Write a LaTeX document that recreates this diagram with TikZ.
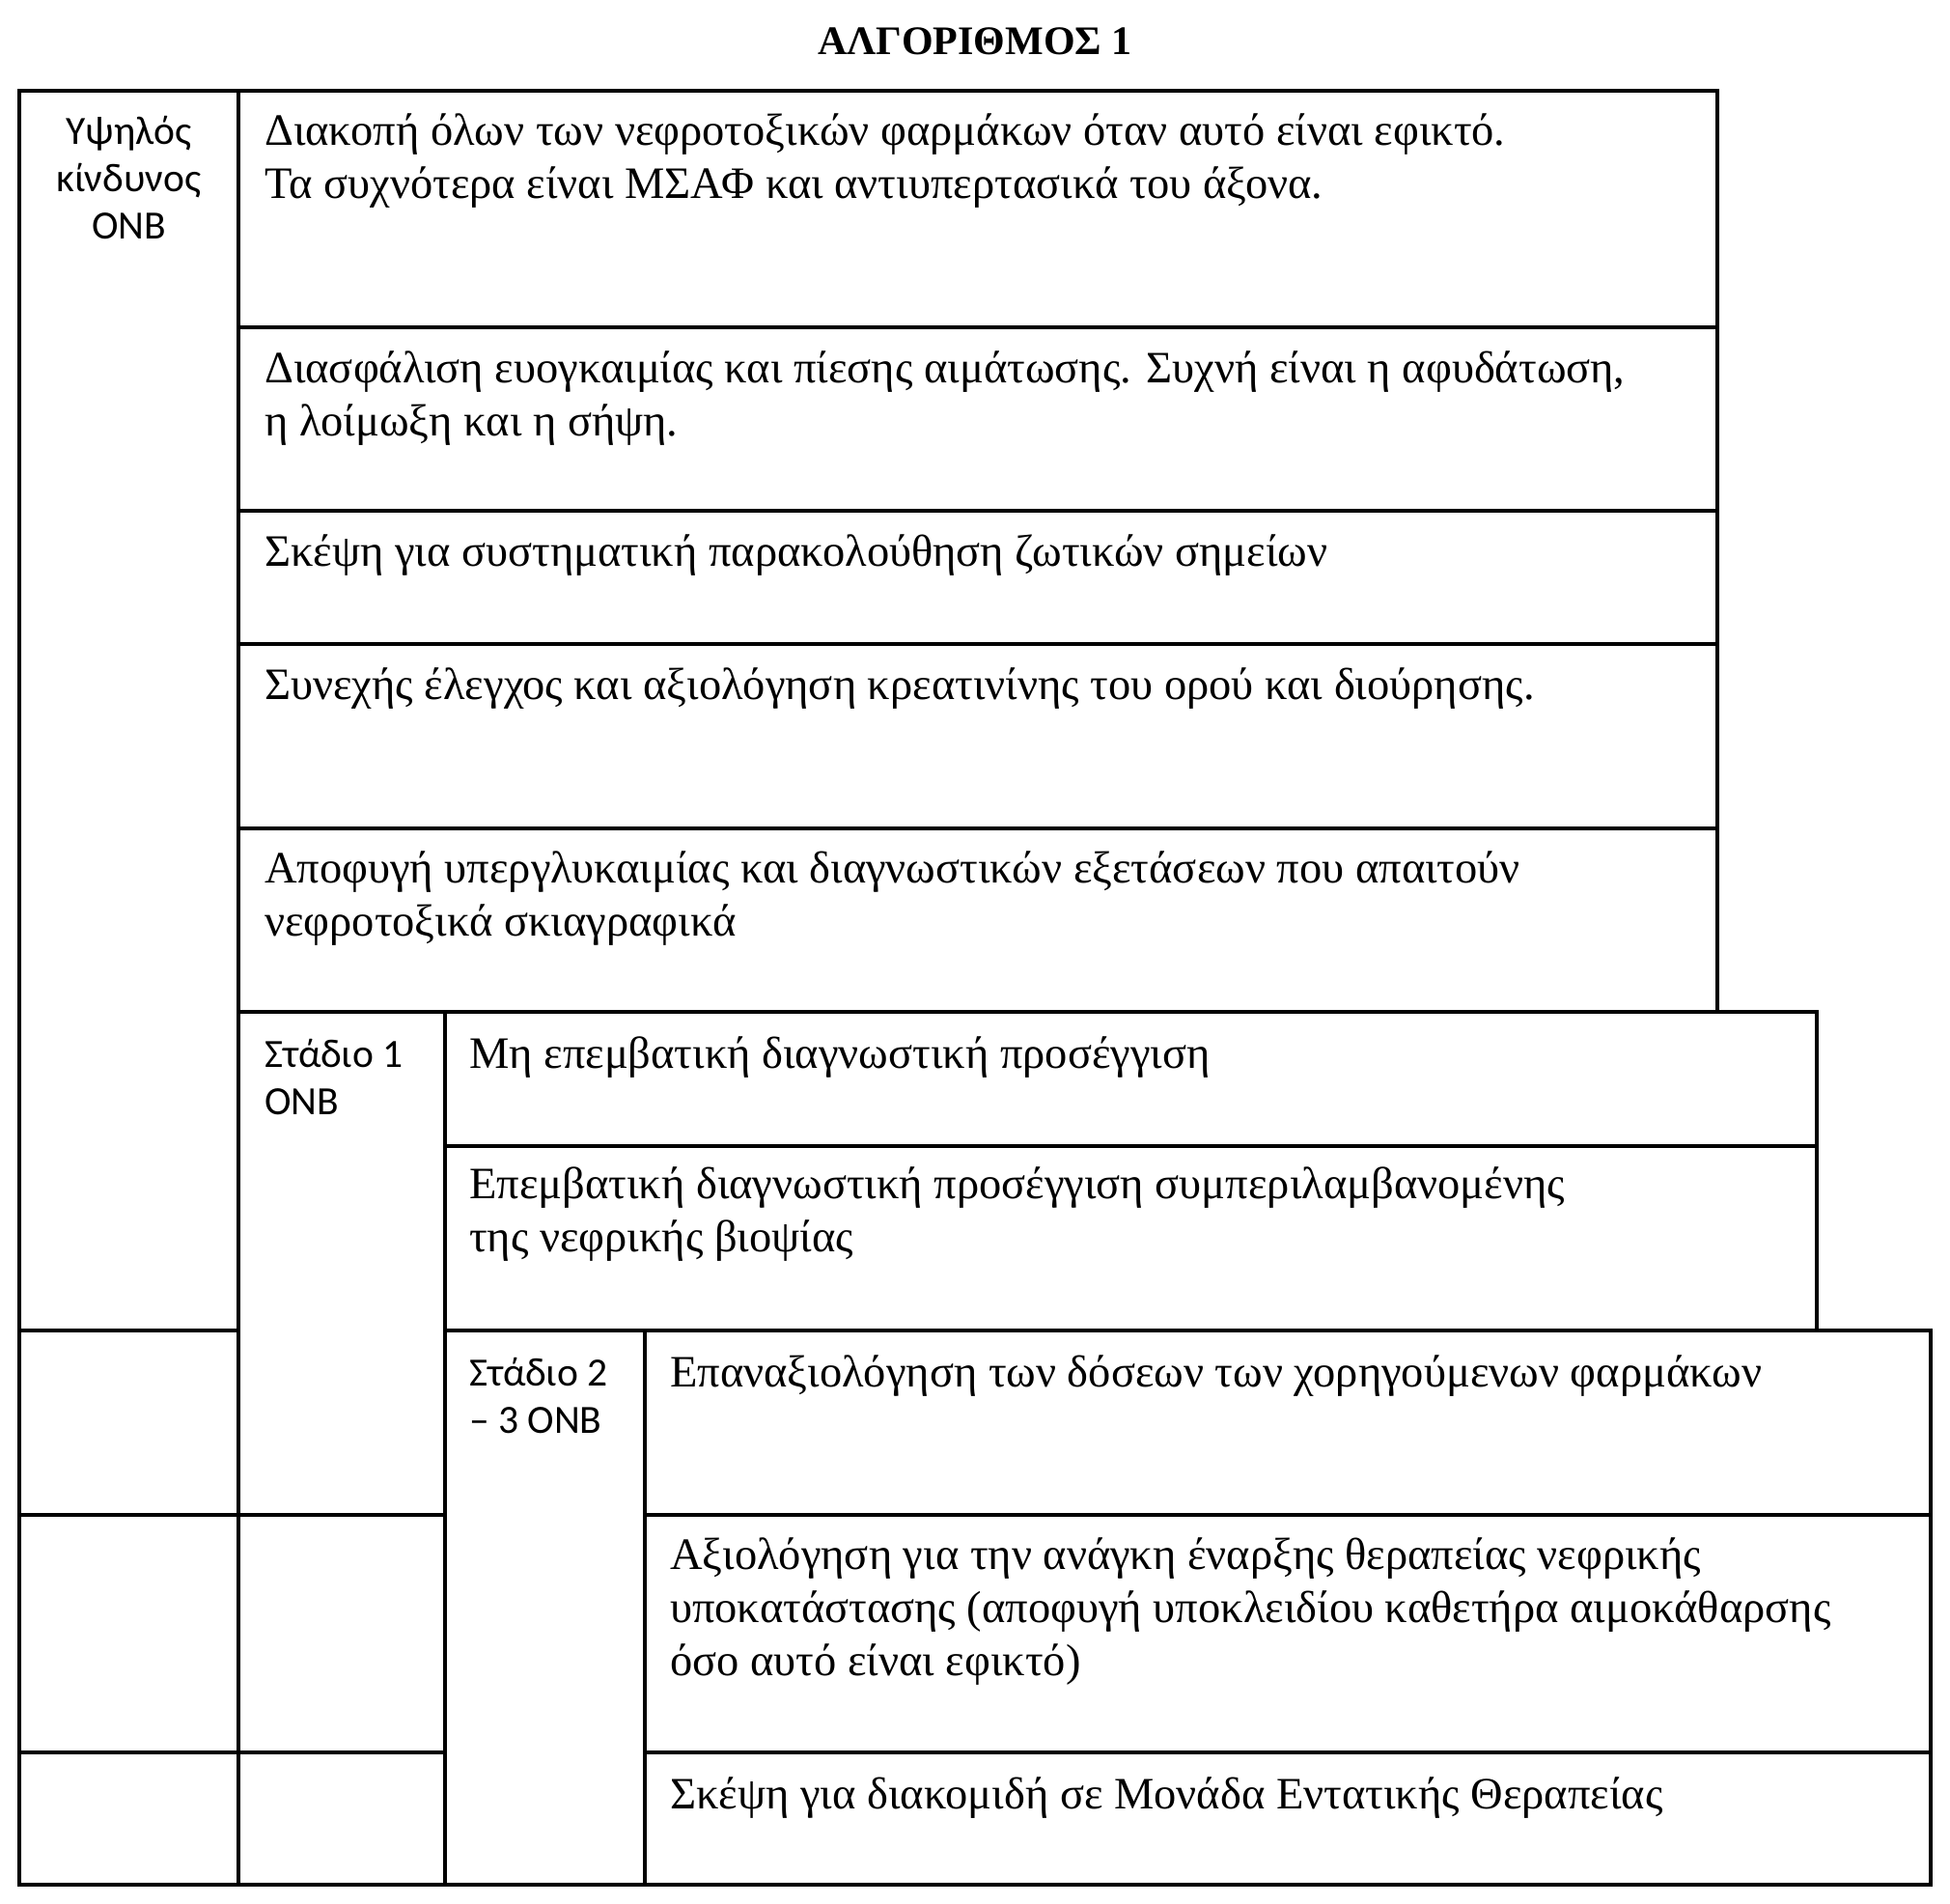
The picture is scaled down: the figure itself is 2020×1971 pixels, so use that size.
\documentclass[tikz,border=0pt]{standalone}
\usepackage{fontspec}
\setmainfont{Liberation Serif}
\newfontfamily\calib{Carlito}
\begin{document}
\begin{tikzpicture}[x=1pt,y=-1pt,
  cell/.style={draw, line width=3.5pt, line join=miter},
  txt/.style={anchor=north west, inner sep=0pt, align=left, font=\fontsize{46.5}{55}\selectfont},
  lab/.style={anchor=north west, inner sep=0pt, align=left, font=\calib\fontsize{41.5}{49}\selectfont},
  ttl/.style={anchor=base, inner sep=0pt, font=\bfseries\fontsize{42}{48}\selectfont}]
\useasboundingbox[fill=white] (0,0) rectangle (2020,1971);
% column 1
\draw[cell] (20,94) rectangle (247,1378);
\draw[cell] (20,1378) rectangle (247,1569);
\draw[cell] (20,1569) rectangle (247,1815);
\draw[cell] (20,1815) rectangle (247,1952);
% top rows
\draw[cell] (247,94) rectangle (1779,339);
\draw[cell] (247,339) rectangle (1779,529);
\draw[cell] (247,529) rectangle (1779,667);
\draw[cell] (247,667) rectangle (1779,858);
\draw[cell] (247,858) rectangle (1779,1048);
% column 2
\draw[cell] (247,1048) rectangle (461,1569);
\draw[cell] (247,1569) rectangle (461,1815);
\draw[cell] (247,1815) rectangle (461,1952);
% stage 1
\draw[cell] (461,1048) rectangle (1882,1187);
\draw[cell] (461,1187) rectangle (1882,1378);
% column 3
\draw[cell] (461,1378) rectangle (668,1952);
% stage 2
\draw[cell] (668,1378) rectangle (2000,1569);
\draw[cell] (668,1569) rectangle (2000,1815);
\draw[cell] (668,1815) rectangle (2000,1952);

\node[ttl] (title) at (1010,56) {ΑΛΓΟΡΙΘΜΟΣ 1};

\node[lab, anchor=north, align=center] (high) at (133.5,115) {\strut Υψηλός\\κίνδυνος\\ΟΝΒ};
\node[lab] (st1) at (274,1071) {\strut Στάδιο 1\\ΟΝΒ};
\node[lab] (st2) at (486,1401) {\strut Στάδιο 2\\– 3 ΟΝΒ};

\node[txt] (r1) at (274,112) {\strut Διακοπή όλων των νεφροτοξικών φαρμάκων όταν αυτό είναι εφικτό.\\Τα συχνότερα είναι ΜΣΑΦ και αντιυπερτασικά του άξονα.};
\node[txt] (r2) at (274,358) {\strut Διασφάλιση ευογκαιμίας και πίεσης αιμάτωσης. Συχνή είναι η αφυδάτωση,\\η λοίμωξη και η σήψη.};
\node[txt] (r3) at (274,548) {\strut Σκέψη για συστηματική παρακολούθηση ζωτικών σημείων};
\node[txt] (r4) at (274,686) {\strut Συνεχής έλεγχος και αξιολόγηση κρεατινίνης του ορού και διούρησης.};
\node[txt] (r5) at (274,876) {\strut Αποφυγή υπεργλυκαιμίας και διαγνωστικών εξετάσεων που απαιτούν\\νεφροτοξικά σκιαγραφικά};

\node[txt] (s1a) at (486,1068) {\strut Μη επεμβατική διαγνωστική προσέγγιση};
\node[txt] (s1b) at (486,1203) {\strut Επεμβατική διαγνωστική προσέγγιση συμπεριλαμβανομένης\\της νεφρικής βιοψίας};

\node[txt] (s2a) at (694,1398) {\strut Επαναξιολόγηση των δόσεων των χορηγούμενων φαρμάκων};
\node[txt] (s2b) at (694,1587) {\strut Αξιολόγηση για την ανάγκη έναρξης θεραπείας νεφρικής\\υποκατάστασης (αποφυγή υποκλειδίου καθετήρα αιμοκάθαρσης\\όσο αυτό είναι εφικτό)};
\node[txt] (s2c) at (694,1835) {\strut Σκέψη για διακομιδή σε Μονάδα Εντατικής Θεραπείας};
\end{tikzpicture}
\end{document}
